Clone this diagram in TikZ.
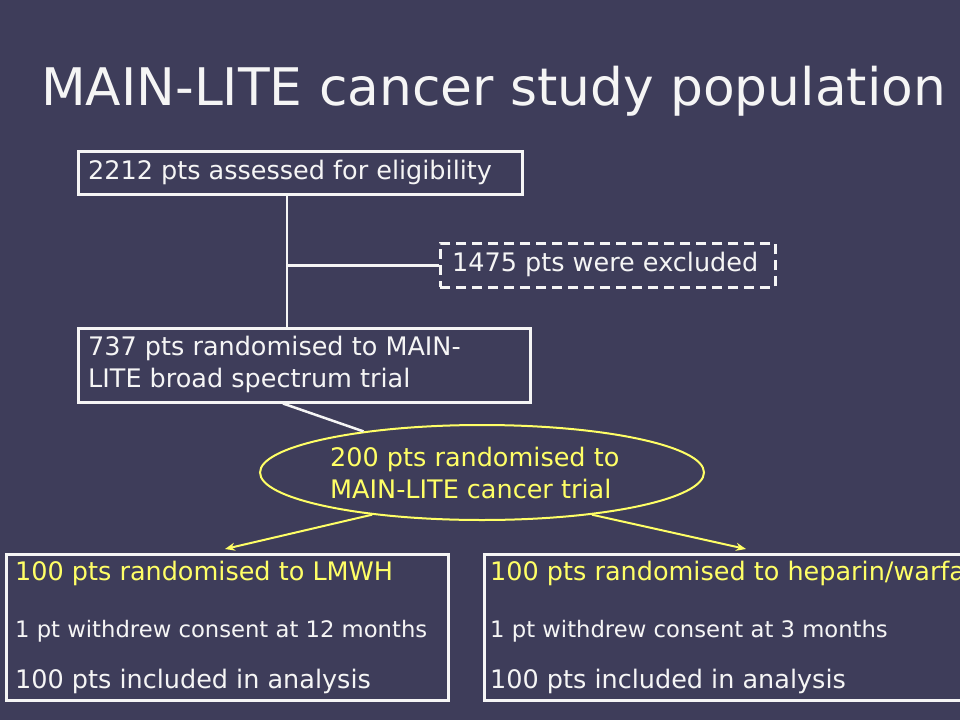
\documentclass[tikz,border=0pt]{standalone}
\usepackage{fontspec}
\setmainfont{DejaVu Sans}
\usetikzlibrary{arrows.meta,shapes.geometric,calc}
\definecolor{bg}{RGB}{62,61,90}
\definecolor{yel}{RGB}{255,255,102}
\definecolor{wht}{RGB}{245,245,245}
\begin{document}
\begin{tikzpicture}[x=1pt,y=-1pt,
  box/.style={draw=wht, line width=2.5pt, inner sep=0pt, anchor=north west},
  dashbox/.style={box, dash pattern=on 10pt off 6pt},
  txt/.style={text=wht, font=\fontsize{25.5}{30}\selectfont, anchor=base west, inner sep=0pt},
  ytxt/.style={txt, text=yel},
  small/.style={txt, font=\fontsize{22.7}{27}\selectfont},
  conn/.style={draw=wht, line width=2.5pt},
  yarrow/.style={draw=yel, line width=2pt, -{Stealth[length=10pt,width=8pt]}}]
\useasboundingbox (0,0) rectangle (960,720);
\fill[bg] (0,0) rectangle (960,720);
\clip (0,0) rectangle (960,720);

\node[text=wht, font=\fontsize{51.8}{60}\selectfont, anchor=base west, inner sep=0pt] (title) at (41,105) {MAIN-LITE cancer study population};

% boxes
\node[box, minimum width=444pt, minimum height=43pt] (b1) at (77,150) {};
\node[txt] (t1) at (88,179) {2212 pts assessed for eligibility};

\node[dashbox, minimum width=335pt, minimum height=44pt] (ex) at (439,242) {};
\node[txt] (tex) at (452,271) {1475 pts were excluded};

\node[box, minimum width=452pt, minimum height=74pt] (b2) at (77,327) {};
\node[txt] (t2a) at (88,355) {737 pts randomised to MAIN-};
\node[txt] (t2b) at (88,387) {LITE broad spectrum trial};

\node[ellipse, draw=yel, line width=2pt, minimum width=444pt, minimum height=95pt, inner sep=0pt] (ell) at (482,472.5) {};
\node[ytxt] (te1) at (330,466) {200 pts randomised to};
\node[ytxt] (te2) at (330,498) {MAIN-LITE cancer trial};

\node[box, minimum width=442pt, minimum height=146pt] (b3) at (5,553) {};
\node[ytxt] (t3a) at (15,580) {100 pts randomised to LMWH};
\node[small] (t3b) at (15,637) {1 pt withdrew consent at 12 months};
\node[txt] (t3c) at (15,688) {100 pts included in analysis};

\node[box, minimum width=520pt, minimum height=146pt] (b4) at (483,553) {};
\node[ytxt] (t4a) at (490,580) {100 pts randomised to heparin/warfarin};
\node[small] (t4b) at (490,637) {1 pt withdrew consent at 3 months};
\node[txt] (t4c) at (490,688) {100 pts included in analysis};

% connectors
\draw[conn] ([xshift=210pt]b1.south west) -- ([xshift=210pt]b2.north west);
\draw[conn] ([xshift=210pt]b1.south west |- ex.west) -- (ex.west);
\draw[conn] ([xshift=206pt]b2.south west) -- (ell);

\coordinate (a1) at (225,549);
\coordinate (a2) at (746,549);
\draw[yarrow] (ell.201) -- (a1);
\draw[yarrow] (ell.339) -- (a2);
\end{tikzpicture}
\end{document}
